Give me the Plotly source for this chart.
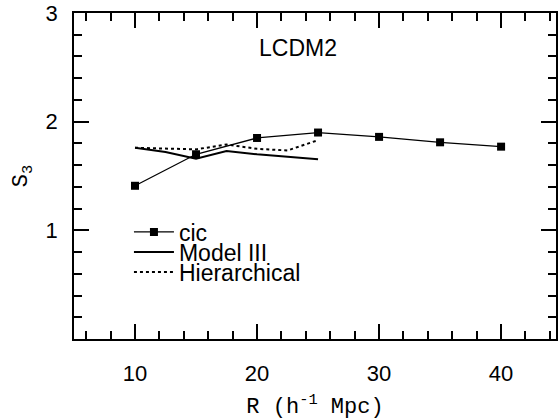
import plotly.graph_objects as go

# ---- data ----
cic_R = [10, 15, 20, 25, 30, 35, 40]
cic_S3 = [1.41, 1.70, 1.85, 1.90, 1.86, 1.81, 1.77]

model3_R = [10, 12.5, 15, 17.5, 20, 25]
model3_S3 = [1.76, 1.72, 1.66, 1.73, 1.70, 1.655]

hier_R = [10, 15, 17.5, 20, 22.5, 25]
hier_S3 = [1.76, 1.745, 1.79, 1.75, 1.735, 1.83]

x_ticks = [10, 20, 30, 40]
y_ticks = [1, 2, 3]

fig = go.Figure()
fig.add_trace(go.Scatter(x=cic_R, y=cic_S3, mode="lines+markers", name="cic",
                         legend="legend",
                         line=dict(color="black", width=1.3),
                         marker=dict(symbol="square", size=8, color="black")))
fig.add_trace(go.Scatter(x=model3_R, y=model3_S3, mode="lines", name="Model III",
                         legend="legend2",
                         line=dict(color="black", width=2)))
fig.add_trace(go.Scatter(x=hier_R, y=hier_S3, mode="lines", name="Hierarchical",
                         legend="legend3",
                         line=dict(color="black", width=2, dash="dot")))

axis_common = dict(showline=True, linecolor="black", linewidth=1.5, mirror="ticks",
                   ticks="inside", tickcolor="black", tickwidth=1.5, ticklen=15,
                   showgrid=False, zeroline=False,
                   tickfont=dict(family="Liberation Sans, Arial", size=22, color="black"))

fig.update_xaxes(range=[5, 44.5], tickmode="array", tickvals=x_ticks,
                 ticklabelstandoff=14,
                 minor=dict(tickmode="linear", tick0=0, dtick=2, ticks="inside",
                            ticklen=8, tickwidth=1.5, tickcolor="black", showgrid=False),
                 title=dict(text="R (h<sup>-1</sup> Mpc)",
                            font=dict(family="Liberation Mono, Courier New", size=22, color="black"),
                            standoff=15),
                 **axis_common)
fig.update_yaxes(range=[0, 3], tickmode="array", tickvals=y_ticks,
                 ticklabelstandoff=10,
                 minor=dict(tickmode="linear", tick0=0, dtick=0.2, ticks="inside",
                            ticklen=8, tickwidth=1.5, tickcolor="black", showgrid=False),
                 title=dict(text="S<sub>3</sub>",
                            font=dict(family="Liberation Mono, Courier New", size=22, color="black"),
                            standoff=12),
                 **axis_common)

fig.add_annotation(text="LCDM2", xref="paper", yref="paper", x=0.465, y=0.893,
                   showarrow=False, xanchor="center", yanchor="middle",
                   font=dict(family="Liberation Sans, Arial", size=23, color="black"))

legend_style = dict(x=0.114, xanchor="left", yanchor="middle",
                    bgcolor="rgba(0,0,0,0)", borderwidth=0, itemwidth=40,
                    font=dict(family="Liberation Sans, Arial", size=23, color="black"))

fig.update_layout(
    width=559, height=420,
    margin=dict(l=74, r=1, t=13, b=81),
    paper_bgcolor="white", plot_bgcolor="white",
    showlegend=True,
    legend=dict(y=(339 - 232) / 326, **legend_style),
    legend2=dict(y=(339 - 252) / 326, **legend_style),
    legend3=dict(y=(339 - 272) / 326, **legend_style),
)

fig.write_html("out.html")
